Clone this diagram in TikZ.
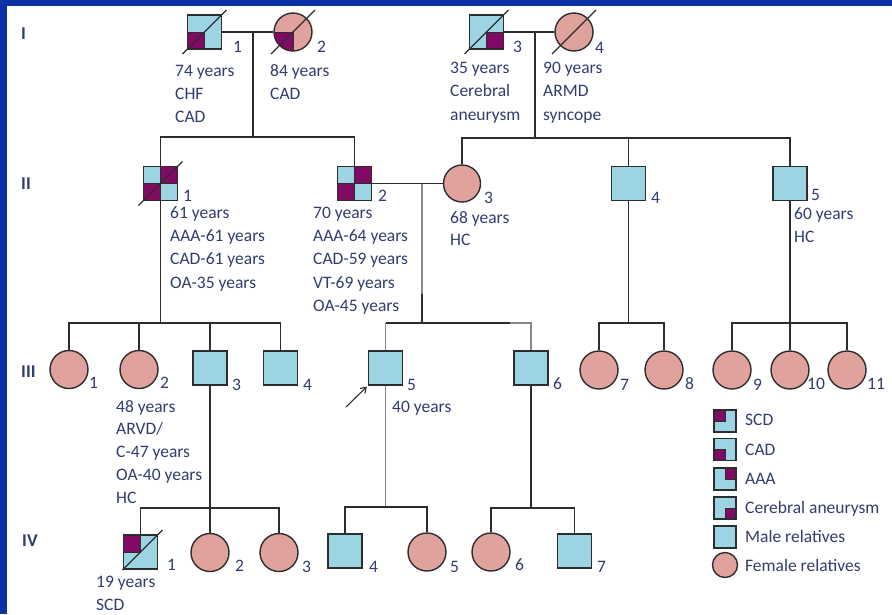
\documentclass[tikz,border=0pt]{standalone}
\usepackage{fontspec}
\setmainfont{Carlito}
\usetikzlibrary{arrows.meta,calc}
\definecolor{mblue}{RGB}{157,212,228}
\definecolor{fpink}{RGB}{224,162,156}
\definecolor{purp}{RGB}{128,10,100}
\definecolor{lc}{RGB}{45,45,45}
\definecolor{glc}{RGB}{135,135,135}
\definecolor{tc}{RGB}{50,60,110}
\definecolor{slide}{RGB}{12,48,165}
\newcommand\deadline[3]{\draw[conn,line width=1.1pt] ([shift={(-#2pt,-#2pt)}]#1.center) -- ([shift={(#3pt,#3pt)}]#1.center);}
\newcommand\infotext[5]{\foreach \t [count=\i from 0] in {#5} {\node[info] (#1-\i) at (#2, {#3+#4*\i}) {\t};}}
\tikzset{
  conn/.style={draw=lc, line width=1.4pt},
  gconn/.style={draw=glc, line width=1.4pt},
  male/.style={draw=lc, fill=mblue, rectangle, minimum size=34pt, inner sep=0pt, line width=1.4pt},
  female/.style={draw=lc, fill=fpink, circle, minimum size=38pt, inner sep=0pt, line width=1.4pt},
  qSW/.style={path picture={\fill[purp,draw=lc,line width=0.8pt] (path picture bounding box.center) rectangle (path picture bounding box.south west);}},
  qNW/.style={path picture={\fill[purp,draw=lc,line width=0.8pt] (path picture bounding box.center) rectangle (path picture bounding box.north west);}},
  qNE/.style={path picture={\fill[purp,draw=lc,line width=0.8pt] (path picture bounding box.center) rectangle (path picture bounding box.north east);}},
  qSE/.style={path picture={\fill[purp,draw=lc,line width=0.8pt] (path picture bounding box.center) rectangle (path picture bounding box.south east);}},
  qNESW/.style={path picture={
      \fill[purp] (path picture bounding box.center) rectangle (path picture bounding box.north east);
      \fill[purp] (path picture bounding box.center) rectangle (path picture bounding box.south west);
      \draw[lc,line width=1.1pt] (path picture bounding box.north) -- (path picture bounding box.south);
      \draw[lc,line width=1.1pt] (path picture bounding box.west) -- (path picture bounding box.east);}},
  info/.style={anchor=base west, inner sep=0pt, text=tc, font=\fontsize{17.5}{20}\selectfont},
  num/.style={info},
  gen/.style={anchor=base west, inner sep=0pt, text=tc, font=\fontsize{18}{20}\selectfont\bfseries},
}
\begin{document}
\begin{tikzpicture}[x=1pt,y=-1pt]
\fill[slide] (0,0) rectangle (892,614);
\fill[white] (7,6) rectangle (892,614);
\useasboundingbox (0,0) rectangle (892,614);

% generation labels
\node[gen] (gI) at (21,39) {I};
\node[gen] (gII) at (21,189) {II};
\node[gen] (gIII) at (21,377) {III};
\node[gen] (gIV) at (22,546) {IV};

% generation I
\node[male,qSW] (I1) at (204.5,32) {};
\node[female,qSW] (I2) at (293,32) {};
\node[male,qSE] (I3) at (486.5,32) {};
\node[female] (I4) at (574,32) {};
% generation II
\node[male,qNESW] (II1) at (160.5,183.5) {};
\node[male,qNESW] (II2) at (354.5,183.5) {};
\node[female,minimum size=37pt] (II3) at (462,183.5) {};
\node[male] (II4) at (628.5,183.5) {};
\node[male] (II5) at (790,183.5) {};
% generation III
\node[female] (III1) at (69,369.5) {};
\node[female] (III2) at (139,369.5) {};
\node[male] (III3) at (210,368) {};
\node[male] (III4) at (280.5,368) {};
\node[male] (III5) at (385.5,368) {};
\node[male] (III6) at (531,368) {};
\node[female] (III7) at (599,370) {};
\node[female] (III8) at (664,370) {};
\node[female] (III9) at (732,370) {};
\node[female] (III10) at (790,370) {};
\node[female] (III11) at (847,370) {};
% generation IV
\node[male,qNW] (IV1) at (140.5,552) {};
\node[female] (IV2) at (210,552.5) {};
\node[female] (IV3) at (279,552.5) {};
\node[male] (IV4) at (345,551) {};
\node[female] (IV5) at (427,552) {};
\node[female] (IV6) at (491,552) {};
\node[male] (IV7) at (574.5,551) {};

% deceased
\deadline{I1}{22}{22}
\deadline{I2}{22}{22}
\deadline{I3}{22}{22}
\deadline{I4}{22}{22}
\deadline{II1}{22}{22}
\deadline{IV1}{18}{22}

% junction coordinates
\coordinate (m1) at (253,32);
\coordinate (s1) at (253,137);
\coordinate (m2) at (535,32);
\coordinate (s2) at (535,138);
\coordinate (s3) at (160.5,323);
\coordinate (m3) at (422,183.5);
\coordinate (m3b) at (422,294);
\coordinate (s4) at (422,323);
\coordinate (j4) at (510,323);
\coordinate (s5) at (628.5,323);
\coordinate (s6) at (790,323);
\coordinate (s7) at (210,508);
\coordinate (s8) at (385.5,507);
\coordinate (s9) at (531,508);
\coordinate (arrtail) at (346,407);

% connectors generation I -> II
\draw[conn] (I1.east) -- (I2.west);
\draw[conn] (m1) -- (s1);
\draw[conn] (II1.north) |- (s1) -| (II2.north);
\draw[conn] (I3.east) -- (I4.west);
\draw[conn] (m2) -- (s2);
\draw[conn] (II3.north) |- (s2) -| (II5.north);
\draw[conn] (II4.north) -- (II4.north |- s2);
% II -> III
\draw[conn] (II1.south) -- (s3);
\draw[conn] (III1.north) |- (s3) -| (III4.north);
\draw[conn] (III2.north) -- (III2.north |- s3);
\draw[conn] (III3.north) -- (III3.north |- s3);
\draw[conn] (II2.east) -- (II3.west);
\draw[gconn] (m3) -- (m3b);
\draw[conn] (m3b) -- (s4);
\draw[gconn] (III5.north) -- (III5.north |- s4);
\draw[conn] (III5.north |- s4) -- (s4) -- (j4);
\draw[gconn] (j4) -| (III6.north);
\draw[conn] (II4.south) -- (s5);
\draw[conn] (III7.north) |- (s5) -| (III8.north);
\draw[conn] (II5.south) -- (s6);
\draw[conn] (III9.north) |- (s6) -| (III11.north);
\draw[conn] (III10.north) -- (III10.north |- s6);
% III -> IV
\draw[conn] (III3.south) -- (s7);
\draw[conn] (IV1.north) |- (s7) -| (IV3.north);
\draw[conn] (IV2.north) -- (IV2.north |- s7);
\draw[gconn] (III5.south) -- (s8);
\draw[conn] (IV4.north) |- (s8) -| (IV5.north);
\draw[conn] (III6.south) -- (s9);
\draw[conn] (IV6.north) |- (s9) -| (IV7.north);
% proband arrow
\draw[draw=lc, line width=1.1pt, -{Straight Barb[length=5pt,width=7pt]}] (arrtail) -- ([shift={(-1pt,-1pt)}]III5.south west);

% numbers
\node[num] (nI1) at (233,52) {1};
\node[num] (nI2) at (317,52) {2};
\node[num] (nI3) at (513,52) {3};
\node[num] (nI4) at (595,53) {4};
\node[num] (nII1) at (183,201) {1};
\node[num] (nII2) at (378,201) {2};
\node[num] (nII3) at (484,203) {3};
\node[num] (nII4) at (651,203) {4};
\node[num] (nII5) at (811,200) {5};
\node[num] (nIII1) at (89,388) {1};
\node[num] (nIII2) at (160,388) {2};
\node[num] (nIII3) at (232,390) {3};
\node[num] (nIII4) at (303,390) {4};
\node[num] (nIII5) at (407,390) {5};
\node[num] (nIII6) at (553,389) {6};
\node[num] (nIII7) at (620,390) {7};
\node[num] (nIII8) at (685,389) {8};
\node[num] (nIII9) at (753,390) {9};
\node[num] (nIII10) at (807,389) {10};
\node[num] (nIII11) at (867,389) {11};
\node[num] (nIV1) at (167,570) {1};
\node[num] (nIV2) at (235,571) {2};
\node[num] (nIV3) at (302,572) {3};
\node[num] (nIV4) at (369,572) {4};
\node[num] (nIV5) at (450,572) {5};
\node[num] (nIV6) at (515,570) {6};
\node[num] (nIV7) at (597,572) {7};

% information texts
\infotext{tI1}{175}{76}{23}{74 years,CHF,CAD}
\infotext{tI2}{270}{76}{23}{84 years,CAD}
\infotext{tI3}{450}{73}{23.5}{35 years,Cerebral,aneurysm}
\infotext{tI4}{543}{73}{23.5}{90 years,ARMD,syncope}
\infotext{tII1}{170}{218}{23.4}{61 years,AAA-61 years,CAD-61 years,OA-35 years}
\infotext{tII2}{313}{218}{23.4}{70 years,AAA-64 years,CAD-59 years,VT-69 years,OA-45 years}
\infotext{tII3}{450}{223}{22}{68 years,HC}
\infotext{tII5}{794}{219}{23}{60 years,HC}
\infotext{tIII2}{116}{412}{22.8}{48 years,ARVD/,C-47 years,OA-40 years,HC}
\infotext{tIII5}{392}{412}{23}{40 years}
\infotext{tIV1}{96}{587}{23}{19 years,SCD}

% legend
\node[male,minimum size=22pt,qNW] (Lscd) at (725,421) {};
\node[male,minimum size=22pt,qSW] (Lcad) at (725,449.5) {};
\node[male,minimum size=22pt,qNE] (Laaa) at (725,479) {};
\node[male,minimum size=22pt,qSE] (Lcer) at (725,508) {};
\node[male,minimum size=22pt] (Lmale) at (725,537) {};
\node[female,minimum size=25pt] (Lfem) at (725,565) {};
\node[info] (tLscd) at (745,425) {SCD};
\node[info] (tLcad) at (745,455) {CAD};
\node[info] (tLaaa) at (745,484) {AAA};
\node[info] (tLcer) at (745,513) {Cerebral aneurysm};
\node[info] (tLmale) at (745,542) {Male relatives};
\node[info] (tLfem) at (745,571) {Female relatives};
\end{tikzpicture}
\end{document}
